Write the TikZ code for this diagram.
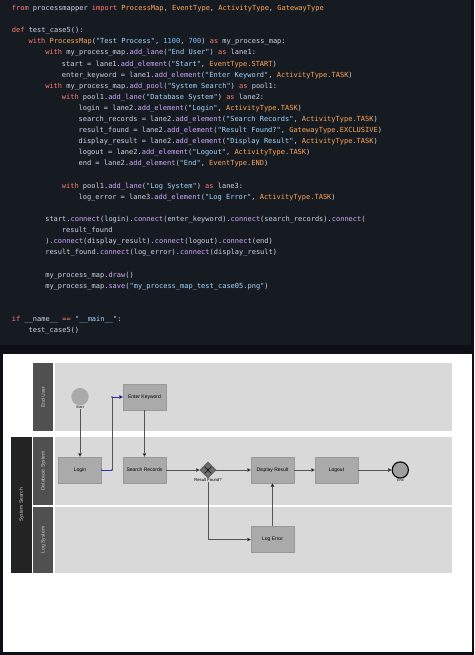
\documentclass[tikz,border=0pt]{standalone}
\usepackage{fontspec}
\setmainfont{Liberation Sans}
\newfontfamily\codefont{DejaVu Sans Mono}
\usetikzlibrary{arrows.meta,shapes.geometric}
\definecolor{outerbg}{HTML}{0D1117}
\definecolor{codebg}{HTML}{161B22}
\definecolor{ctxt}{HTML}{D0D3E6}
\definecolor{ckw}{HTML}{FF7B72}
\definecolor{ccl}{HTML}{FFA657}
\definecolor{cst}{HTML}{A5D6FF}
\definecolor{cfn}{HTML}{D2A8FF}
\definecolor{cnm}{HTML}{79C0FF}
\definecolor{lanebody}{HTML}{D9D9D9}
\definecolor{lanehead}{HTML}{505050}
\definecolor{poolhead}{HTML}{232323}
\definecolor{taskfill}{HTML}{AAAAAA}
\definecolor{connc}{HTML}{555555}
\definecolor{bluec}{HTML}{3030A8}
\newcommand\tkw[1]{\textcolor{ckw}{#1}}
\newcommand\tcl[1]{\textcolor{ccl}{#1}}
\newcommand\tst[1]{\textcolor{cst}{#1}}
\newcommand\tfn[1]{\textcolor{cfn}{#1}}
\newcommand\tnm[1]{\textcolor{cnm}{#1}}
\begin{document}
\begin{tikzpicture}[x=1pt,y=-1pt,
  codeline/.style={anchor=base west,inner sep=0pt,text=ctxt,font=\codefont\fontsize{7}{8}\selectfont},
  task/.style={rectangle,fill=taskfill,draw=taskfill!90!black,line width=0.3pt,minimum width=43pt,minimum height=26pt,inner sep=0pt,font=\fontsize{5}{6}\selectfont},
  headtxt/.style={rotate=90,text=white!80!black,font=\fontsize{5}{6}\selectfont,inner sep=0pt},
  smalllbl/.style={inner sep=0.3pt,font=\fontsize{3.6}{4}\selectfont},
  conn/.style={draw=connc,line width=0.5pt,-{Triangle[length=3.6pt,width=3.6pt,fill=black]}},
  bluedot/.style={fill=bluec}
]
\useasboundingbox (0,0) rectangle (474,655);
\fill[outerbg] (0,0) rectangle (474,655);
\fill[codebg] (0,0) rectangle (471,345);
% code lines
\node[codeline] (l1) at (11.7,10.6) {\tkw{from} processmapper \tkw{import} \tcl{ProcessMap}, \tcl{EventType}, \tcl{ActivityType}, \tcl{GatewayType}};
\node[codeline] (l3) at (11.7,32.8) {\tkw{def} test\_case5():};
\node[codeline] (l4) at (28.4,43.9) {\tkw{with} \tcl{ProcessMap}(\tst{"Test Process"}, \tnm{1100}, \tnm{700}) \tkw{as} my\_process\_map:};
\node[codeline] (l5) at (45.1,55.0) {\tkw{with} my\_process\_map.\tfn{add\_lane}(\tst{"End User"}) \tkw{as} lane1:};
\node[codeline] (l6) at (61.7,66.1) {start = lane1.\tfn{add\_element}(\tst{"Start"}, \tcl{EventType.START})};
\node[codeline] (l7) at (61.7,77.2) {enter\_keyword = lane1.\tfn{add\_element}(\tst{"Enter Keyword"}, \tcl{ActivityType.TASK})};
\node[codeline] (l8) at (45.1,88.3) {\tkw{with} my\_process\_map.\tfn{add\_pool}(\tst{"System Search"}) \tkw{as} pool1:};
\node[codeline] (l9) at (61.7,99.4) {\tkw{with} pool1.\tfn{add\_lane}(\tst{"Database System"}) \tkw{as} lane2:};
\node[codeline] (l10) at (78.4,110.5) {login = lane2.\tfn{add\_element}(\tst{"Login"}, \tcl{ActivityType.TASK})};
\node[codeline] (l11) at (78.4,121.6) {search\_records = lane2.\tfn{add\_element}(\tst{"Search Records"}, \tcl{ActivityType.TASK})};
\node[codeline] (l12) at (78.4,132.7) {result\_found = lane2.\tfn{add\_element}(\tst{"Result Found?"}, \tcl{GatewayType.EXCLUSIVE})};
\node[codeline] (l13) at (78.4,143.8) {display\_result = lane2.\tfn{add\_element}(\tst{"Display Result"}, \tcl{ActivityType.TASK})};
\node[codeline] (l14) at (78.4,154.9) {logout = lane2.\tfn{add\_element}(\tst{"Logout"}, \tcl{ActivityType.TASK})};
\node[codeline] (l15) at (78.4,166.0) {end = lane2.\tfn{add\_element}(\tst{"End"}, \tcl{EventType.END})};
\node[codeline] (l17) at (61.7,188.2) {\tkw{with} pool1.\tfn{add\_lane}(\tst{"Log System"}) \tkw{as} lane3:};
\node[codeline] (l18) at (78.4,199.3) {log\_error = lane3.\tfn{add\_element}(\tst{"Log Error"}, \tcl{ActivityType.TASK})};
\node[codeline] (l20) at (45.1,221.5) {start.\tfn{connect}(login).\tfn{connect}(enter\_keyword).\tfn{connect}(search\_records).\tfn{connect}(};
\node[codeline] (l21) at (61.7,232.6) {result\_found};
\node[codeline] (l22) at (45.1,243.7) {).\tfn{connect}(display\_result).\tfn{connect}(logout).\tfn{connect}(end)};
\node[codeline] (l23) at (45.1,254.8) {result\_found.\tfn{connect}(log\_error).\tfn{connect}(display\_result)};
\node[codeline] (l25) at (45.1,277.0) {my\_process\_map.\tfn{draw}()};
\node[codeline] (l26) at (45.1,288.1) {my\_process\_map.\tfn{save}(\tst{"my\_process\_map\_test\_case05.png"})};
\node[codeline] (l29) at (11.7,321.4) {\tkw{if} \_\_name\_\_ \tkw{==} \tst{"\_\_main\_\_"}:};
\node[codeline] (l30) at (28.4,332.5) {test\_case5()};
% diagram panel
\fill[white] (3,354) rectangle (472,652);
% End User lane
\fill[lanehead] (33,363) rectangle (53.3,431);
\fill[lanebody] (55,363) rectangle (452,431);
\node[headtxt] (hEU) at (43.2,397) {End User};
% pool
\fill[poolhead] (11,437) rectangle (32.3,573);
\node[headtxt] (hSS) at (21.6,505) {System Search};
\fill[lanehead] (33.3,437) rectangle (53.3,505.3);
\fill[lanebody] (55,437) rectangle (452,505.3);
\node[headtxt] (hDB) at (43.3,471) {Database System};
\fill[lanehead] (33.3,506.5) rectangle (53.3,573);
\fill[lanebody] (55,506.5) rectangle (452,573);
\node[headtxt] (hLS) at (43.3,540) {Log System};
% elements
\node[circle,fill=taskfill,minimum size=17.4pt,inner sep=0pt] (start) at (80,396.7) {};
\node[smalllbl,anchor=north] (stl) at (start.south) {Start};
\node[task] (ek) at (144.5,397) {Enter Keyword};
\node[task] (login) at (80,470) {Login};
\node[task] (sr) at (144.5,470) {Search Records};
\node[diamond,fill=gray!85!black,draw=gray!60!black,line width=0.3pt,minimum width=16.5pt,minimum height=16.5pt,inner sep=0pt] (gw) at (208,470) {};
\draw[black,line width=0.6pt] (gw.center) ++(-3.2,-3.2) -- ++(6.4,6.4) (gw.center) ++(-3.2,3.2) -- ++(6.4,-6.4);
\node[smalllbl,anchor=north,font=\fontsize{4.2}{5}\selectfont] (gwl) at (gw.south) {Result Found?};
\node[task] (dr) at (272.5,470) {Display Result};
\node[task] (lo) at (336.5,470) {Logout};
\node[circle,fill=gray!75,draw=black,line width=1.1pt,minimum size=16.2pt,inner sep=0pt] (endc) at (400.3,470) {};
\node[smalllbl,anchor=north] (endl) at (endc.south) {End};
\node[task] (le) at (272.5,539.5) {Log Error};
% connectors
\coordinate (k1) at (112,470);
\coordinate (k2) at (112,397);
\draw[conn] (stl.south) -- (login.north);
\draw[draw=bluec,line width=0.5pt] (login.east) -- (k1);
\draw[draw=connc,line width=0.5pt] (k1) -- (k2);
\draw[conn,draw=bluec] (k2) -- (ek.west);
\fill[bluedot] (login.east) circle (0.8pt) (k1) circle (0.8pt) (k2) circle (0.8pt);
\draw[conn] (ek.south) -- (sr.north);
\draw[conn] (sr.east) -- (gw.west);
\draw[conn] (gw.east) -- (dr.west);
\draw[conn] (dr.east) -- (lo.west);
\draw[conn] (lo.east) -- (endc.west);
\draw[conn] (gwl.south) |- (le.west);
\draw[conn] (le.north) -- (dr.south);
\end{tikzpicture}
\end{document}
